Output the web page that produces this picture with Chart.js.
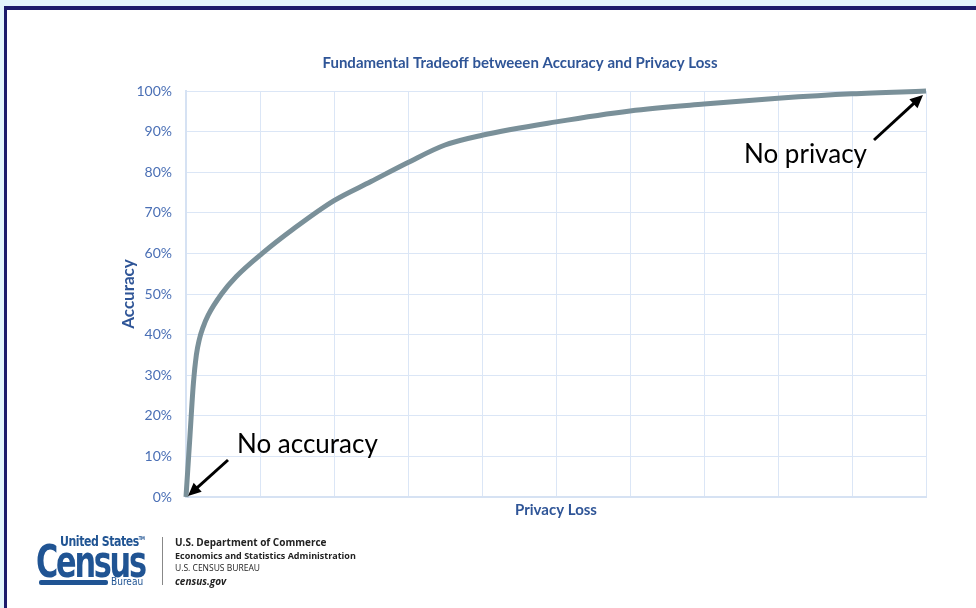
<!DOCTYPE html>
<html>
<head>
<meta charset="utf-8">
<script src="https://cdn.jsdelivr.net/npm/chart.js@4.4.1/dist/chart.umd.min.js"></script>
<style>
  html, body { margin: 0; padding: 0; }
  body { width: 976px; height: 608px; background: #e2f5fc; position: relative; overflow: hidden; }
  #slide { position: absolute; left: 4px; top: 6px; right: -10px; bottom: -10px; background: #fff;
           border-top: 4px solid #1b1b6b; border-left: 3px solid #1b1b6b; }
  #wrap { position: absolute; left: 0; top: 0; width: 976px; height: 608px; }
  .logo { position: absolute; font-family: "DejaVu Sans Condensed", "Liberation Sans Narrow", sans-serif; color: #205493; font-weight: bold; white-space: nowrap; }
  .dept { position: absolute; left: 175px; font-family: "Open Sans", "Liberation Sans", sans-serif; color: #222; font-weight: bold; white-space: nowrap; }
</style>
</head>
<body>
<div id="slide"></div>
<div id="wrap"><canvas id="myChart" width="976" height="608"></canvas></div>

<div class="logo" style="left:60px;top:533px;font-size:14px;letter-spacing:-0.5px;transform:scaleX(0.87);transform-origin:left;">United States<sup style="font-size:5px">TM</sup></div>
<div class="logo" style="left:36px;top:535px;font-size:45px;letter-spacing:-3px;transform:scaleX(0.75);transform-origin:left;">Census</div>
<div style="position:absolute;left:39px;top:580px;width:69px;height:5px;background:#205493;border-radius:2px;"></div>
<div class="logo" style="left:111px;top:576px;font-size:10px;font-weight:normal;">Bureau</div>
<div style="position:absolute;left:162px;top:537px;width:1px;height:48px;background:#888;"></div>
<div class="dept" style="top:535px;font-size:10px;">U.S. Department of Commerce</div>
<div class="dept" style="top:549px;font-size:9px;">Economics and Statistics Administration</div>
<div class="dept" style="top:562px;font-size:8.5px;font-weight:normal;">U.S. CENSUS BUREAU</div>
<div class="dept" style="top:574px;font-size:10px;font-style:italic;">census.gov</div>

<script>
// privacy loss (x, no units) vs accuracy (%)
var privacyLoss = [0, 0.05, 0.10, 0.14, 0.18, 0.23, 0.30, 0.48, 0.68, 1.03, 1.45, 2.0, 2.5, 3.0, 3.5, 4.0, 5.0, 6.0, 7.0, 8.0, 9.0, 10.0];
var accuracy    = [0, 14, 28, 35, 38.8, 41.8, 44.8, 50, 54.3, 60, 66, 73, 77.7, 82.4, 86.7, 89.1, 92.4, 95.1, 96.8, 98.2, 99.3, 100];

var points = privacyLoss.map(function (x, i) { return { x: x, y: accuracy[i] }; });

var blue = "#2f5597";
var gridBlue = "#dbe6f6";
var font = "Lato, 'Open Sans', sans-serif";

function arrow(ctx, x1, y1, x2, y2) {
  var a = Math.atan2(y2 - y1, x2 - x1);
  ctx.save();
  ctx.strokeStyle = "#000";
  ctx.fillStyle = "#000";
  ctx.lineWidth = 3;
  ctx.beginPath();
  ctx.moveTo(x1, y1);
  ctx.lineTo(x2 - 8 * Math.cos(a), y2 - 8 * Math.sin(a));
  ctx.stroke();
  ctx.beginPath();
  ctx.moveTo(x2, y2);
  ctx.lineTo(x2 - 13 * Math.cos(a) + 6 * Math.sin(a), y2 - 13 * Math.sin(a) - 6 * Math.cos(a));
  ctx.lineTo(x2 - 13 * Math.cos(a) - 6 * Math.sin(a), y2 - 13 * Math.sin(a) + 6 * Math.cos(a));
  ctx.closePath();
  ctx.fill();
  ctx.restore();
}

var notes = {
  id: "notes",
  afterDraw: function (chart) {
    var ctx = chart.ctx;
    var xs = chart.scales.x, ys = chart.scales.y;
    ctx.save();
    // title
    ctx.font = "bold 15px " + font;
    ctx.fillStyle = blue;
    ctx.textAlign = "center";
    ctx.textBaseline = "middle";
    ctx.fillText("Fundamental Tradeoff betweeen Accuracy and Privacy Loss", 520, 63);

    // no accuracy
    var x0 = xs.getPixelForValue(privacyLoss[0]), y0 = ys.getPixelForValue(accuracy[0]);
    arrow(ctx, x0 + 42, y0 - 37, x0 + 2, y0 - 1);
    ctx.font = "26px " + font;
    ctx.fillStyle = "#000";
    ctx.textAlign = "left";
    ctx.textBaseline = "alphabetic";
    ctx.fillText("No accuracy", x0 + 51, y0 - 44);

    // no privacy
    var n = privacyLoss.length - 1;
    var x1 = xs.getPixelForValue(privacyLoss[n]), y1 = ys.getPixelForValue(accuracy[n]);
    arrow(ctx, x1 - 52, y1 + 49, x1 - 3, y1 + 4);
    ctx.fillText("No privacy", x1 - 182, y1 + 72);
    ctx.restore();
  }
};

new Chart("myChart", {
  type: "line",
  data: {
    datasets: [{
      data: points,
      borderColor: "#7a9099",
      borderWidth: 5,
      pointRadius: 0,
      cubicInterpolationMode: "monotone",
      fill: false,
      clip: false
    }]
  },
  options: {
    responsive: false,
    animation: false,
    layout: { padding: { left: 118, top: 91, right: 50, bottom: 89 } },
    plugins: { legend: { display: false }, tooltip: { enabled: false }, title: { display: false } },
    scales: {
      x: {
        type: "linear",
        min: 0, max: 10,
        ticks: { display: false, stepSize: 1 },
        grid: { color: gridBlue, lineWidth: 1, drawTicks: false },
        border: { color: "#d6e2f3", width: 2 },
        title: { display: true, text: "Privacy Loss", color: blue, padding: 0,
                 font: { family: font, size: 15, weight: "bold" } },
        afterFit: function (s) { s.height = 22; }
      },
      y: {
        min: 0, max: 100,
        ticks: { stepSize: 10, padding: 14, color: "#4a6fb5",
                 font: { family: font, size: 14 },
                 callback: function (v) { return v + "%"; } },
        grid: { color: gridBlue, lineWidth: 1, drawTicks: false },
        border: { color: "#d6e2f3", width: 2 },
        title: { display: true, text: "Accuracy", color: blue, padding: 0,
                 font: { family: font, size: 17, weight: "bold" } },
        afterFit: function (s) { s.width = 68; }
      }
    }
  },
  plugins: [notes]
});
</script>
</body>
</html>
